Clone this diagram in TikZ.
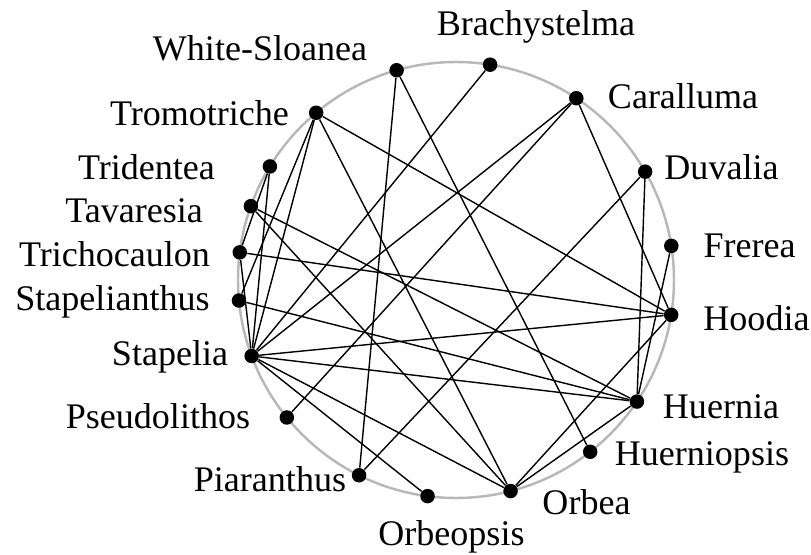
\documentclass[tikz,border=0pt]{standalone}
\usepackage{fontspec}
\setmainfont{Liberation Serif}
\usepackage{tikz}
\usetikzlibrary{positioning}

\begin{document}
\begin{tikzpicture}
            % Styles
            \tikzstyle{cercle}=[draw=black!28,line width=1.4pt]
            \tikzstyle{sommet}=[fill=black,circle,inner sep=0pt,minimum size=0.29cm]
            \tikzstyle{nom}=[anchor=base,inner sep=0pt,font=\fontsize{20.5pt}{24pt}\selectfont]
            \tikzstyle{arete}=[line width=0.8pt]
            % Dimensions
            \def\Rayon{4.36}
            \useasboundingbox (-9.12,-5.48) rectangle (7.10,5.60);
            % Cercle
            \draw[cercle] (0,0) circle (\Rayon);
            % Sommets
            \node[sommet] (Brachystelma) at (81.0:\Rayon) {};
            \node[sommet] (WhiteSloanea) at (105.8:\Rayon) {};
            \node[sommet] (Tromotriche) at (129.9:\Rayon) {};
            \node[sommet] (Tridentea) at (148.6:\Rayon) {};
            \node[sommet] (Tavaresia) at (160.2:\Rayon) {};
            \node[sommet] (Trichocaulon) at (172.7:\Rayon) {};
            \node[sommet] (Stapelianthus) at (185.4:\Rayon) {};
            \node[sommet] (Stapelia) at (200.4:\Rayon) {};
            \node[sommet] (Pseudolithos) at (219.1:\Rayon) {};
            \node[sommet] (Piaranthus) at (243.6:\Rayon) {};
            \node[sommet] (Orbeopsis) at (262.5:\Rayon) {};
            \node[sommet] (Orbea) at (284.5:\Rayon) {};
            \node[sommet] (Huerniopsis) at (308.0:\Rayon) {};
            \node[sommet] (Huernia) at (326.1:\Rayon) {};
            \node[sommet] (Hoodia) at (350.8:\Rayon) {};
            \node[sommet] (Frerea) at (9.0:\Rayon) {};
            \node[sommet] (Duvalia) at (29.8:\Rayon) {};
            \node[sommet] (Caralluma) at (56.5:\Rayon) {};
            % Noms
            \node[nom] (nBrachystelma) at (1.60,4.88) {Brachystelma};
            \node[nom] (nWhiteSloanea) at (-3.92,4.38) {White-Sloanea};
            \node[nom] (nCaralluma) at (4.54,3.42) {Caralluma};
            \node[nom] (nTromotriche) at (-5.13,3.08) {Tromotriche};
            \node[nom] (nTridentea) at (-6.19,2.00) {Tridentea};
            \node[nom] (nDuvalia) at (5.31,2.00) {Duvalia};
            \node[nom] (nTavaresia) at (-6.44,1.16) {Tavaresia};
            \node[nom] (nFrerea) at (5.87,0.46) {Frerea};
            \node[nom] (nTrichocaulon) at (-6.83,0.28) {Trichocaulon};
            \node[nom] (nStapelianthus) at (-6.87,-0.60) {Stapelianthus};
            \node[nom] (nHoodia) at (6.01,-1.00) {Hoodia};
            \node[nom] (nStapelia) at (-5.72,-1.70) {Stapelia};
            \node[nom] (nPseudolithos) at (-5.96,-2.96) {Pseudolithos};
            \node[nom] (nHuernia) at (5.30,-2.76) {Huernia};
            \node[nom] (nHuerniopsis) at (4.92,-3.70) {Huerniopsis};
            \node[nom] (nPiaranthus) at (-3.72,-4.22) {Piaranthus};
            \node[nom] (nOrbea) at (2.61,-4.68) {Orbea};
            \node[nom] (nOrbeopsis) at (-0.09,-5.30) {Orbeopsis};
            % Aretes
            \draw[arete] (WhiteSloanea)--(Piaranthus);
            \draw[arete] (WhiteSloanea)--(Huerniopsis);
            \draw[arete] (Brachystelma)--(Stapelia);
            \draw[arete] (Caralluma)--(Stapelia);
            \draw[arete] (Caralluma)--(Pseudolithos);
            \draw[arete] (Caralluma)--(Hoodia);
            \draw[arete] (Duvalia)--(Piaranthus);
            \draw[arete] (Duvalia)--(Huernia);
            \draw[arete] (Frerea)--(Huernia);
            \draw[arete] (Tromotriche)--(Hoodia);
            \draw[arete] (Tromotriche)--(Orbea);
            \draw[arete] (Tromotriche)--(Stapelia);
            \draw[arete] (Tromotriche)--(Stapelianthus);
            \draw[arete] (Tridentea)--(Stapelia);
            \draw[arete] (Tridentea)--(Trichocaulon);
            \draw[arete] (Tavaresia)--(Huernia);
            \draw[arete] (Tavaresia)--(Orbea);
            \draw[arete] (Trichocaulon)--(Hoodia);
            \draw[arete] (Trichocaulon)--(Stapelia);
            \draw[arete] (Stapelianthus)--(Huernia);
            \draw[arete] (Stapelia)--(Hoodia);
            \draw[arete] (Stapelia)--(Huernia);
            \draw[arete] (Stapelia)--(Orbea);
            \draw[arete] (Stapelia)--(Orbeopsis);
            \draw[arete] (Hoodia)--(Orbea);
            \draw[arete] (Huernia)--(Orbea);
\end{tikzpicture}
\end{document}
